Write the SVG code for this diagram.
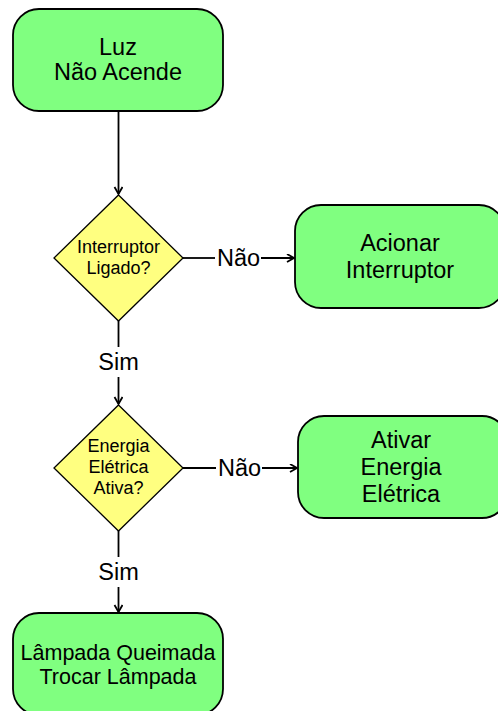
<svg xmlns="http://www.w3.org/2000/svg" width="498" height="711" viewBox="0 0 498 711">
<style>
.box{fill:#80FF80;stroke:#000;stroke-width:1.8}
.dia{fill:#FFFF80;stroke:#000;stroke-width:1.3}
.ln{fill:none;stroke:#000;stroke-width:1.8}
text{font-family:"Liberation Sans",Arial,sans-serif;fill:#000;text-anchor:middle}
.t{font-size:23.5px}
.s{font-size:18px}
.b{font-size:21.5px}
</style>
<defs>
<marker id="arr" markerWidth="10" markerHeight="10" refX="8" refY="4" orient="auto" markerUnits="userSpaceOnUse">
<path d="M1,0 L8,4 L1,8" fill="none" stroke="#000" stroke-width="1.8"/>
</marker>
</defs>
<rect width="498" height="711" fill="#fff"/>
<g id="connectors">
<line class="ln" x1="118.5" y1="111" x2="118.5" y2="194" marker-end="url(#arr)"/>
<line class="ln" x1="183" y1="258" x2="215" y2="258"/>
<line class="ln" x1="261" y1="258" x2="294" y2="258" marker-end="url(#arr)"/>
<text class="t" x="238.5" y="265.5">Não</text>
<line class="ln" x1="118.5" y1="321" x2="118.5" y2="347"/>
<text class="t" x="118.5" y="370">Sim</text>
<line class="ln" x1="118.5" y1="377" x2="118.5" y2="404" marker-end="url(#arr)"/>
<line class="ln" x1="183" y1="468" x2="216" y2="468"/>
<line class="ln" x1="262" y1="468" x2="297" y2="468" marker-end="url(#arr)"/>
<text class="t" x="239.5" y="475.5">Não</text>
<line class="ln" x1="118.5" y1="531" x2="118.5" y2="557"/>
<text class="t" x="118.5" y="580">Sim</text>
<line class="ln" x1="118.5" y1="587" x2="118.5" y2="612" marker-end="url(#arr)"/>
</g>
<g id="luz">
<rect class="box" x="13" y="9" width="210" height="102" rx="26"/>
<text class="t" x="118" y="54.5">Luz</text>
<text class="t" x="118" y="79.5">Não Acende</text>
</g>
<g id="interruptor">
<polygon class="dia" points="118.5,195 183,258 118.5,321 54,258"/>
<text class="s" x="118.5" y="252.5">Interruptor</text>
<text class="s" x="118.5" y="274">Ligado?</text>
</g>
<g id="acionar">
<rect class="box" x="295" y="205" width="210" height="103" rx="26"/>
<text class="t" x="400" y="251">Acionar</text>
<text class="t" x="400" y="277.5">Interruptor</text>
</g>
<g id="energia">
<polygon class="dia" points="118.5,405 183,468 118.5,531 54,468"/>
<text class="s" x="118.5" y="451.5">Energia</text>
<text class="s" x="118.5" y="472.5">Elétrica</text>
<text class="s" x="118.5" y="493.5">Ativa?</text>
</g>
<g id="ativar">
<rect class="box" x="298" y="416" width="210" height="102" rx="26"/>
<text class="t" x="401" y="447.5">Ativar</text>
<text class="t" x="401" y="474.5">Energia</text>
<text class="t" x="401" y="501.5">Elétrica</text>
</g>
<g id="lampada">
<rect class="box" x="13" y="613" width="210" height="102" rx="26"/>
<text class="b" x="118" y="659.5">Lâmpada Queimada</text>
<text class="b" x="118" y="683.5">Trocar Lâmpada</text>
</g>
</svg>
